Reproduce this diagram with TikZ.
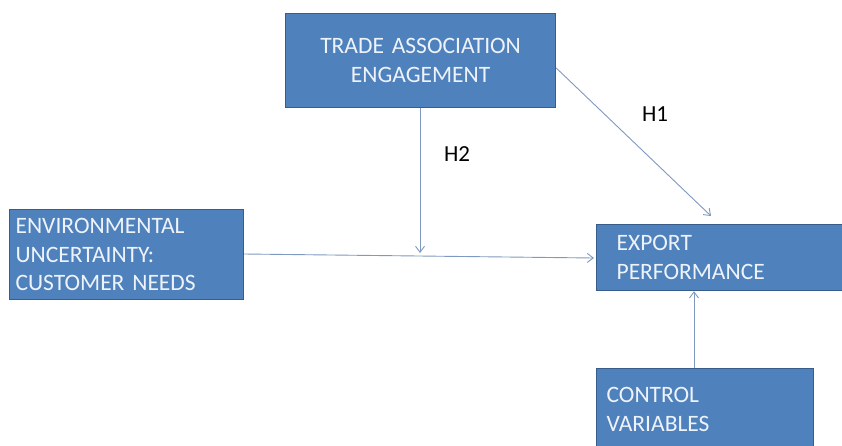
\documentclass[tikz,border=0pt]{standalone}
\usepackage{fontspec}
\setmainfont{Carlito}[WordSpace=0.7]
\usetikzlibrary{arrows.meta}
\definecolor{boxfill}{HTML}{4F81BD}
\definecolor{boxline}{HTML}{385D8A}
\definecolor{arrowc}{HTML}{8099C0}
\definecolor{boxtext}{HTML}{EEF3FA}
\begin{document}
\begin{tikzpicture}[x=1pt,y=-1pt,
  box/.style={draw=boxline, line width=1.2pt, fill=boxfill, text=boxtext,
    font=\fontsize{23.5}{28.5}\selectfont, anchor=north west, inner ysep=0pt},
  conn/.style={draw=arrowc, line width=0.9pt, -{Straight Barb[length=6pt,width=9pt]}},
  lbl/.style={font=\fontsize{23}{26}\selectfont, text=black}]
\useasboundingbox (0,0) rectangle (842,445);
\fill[white] (0,0) rectangle (842,445);
\node[box, minimum width=270, minimum height=94, align=center, inner xsep=0pt, text width=270] (trade) at (285,13) {TRADE ASSOCIATION\\ENGAGEMENT};
\node[box, minimum height=90, align=left, inner xsep=6pt, text width=222] (env) at (9,209) {ENVIRONMENTAL\\UNCERTAINTY:\\CUSTOMER NEEDS};
\node[box, minimum height=66, align=left, inner xsep=20pt, text width=206] (exp) at (596,224) {EXPORT\\PERFORMANCE};
\node[box, minimum height=82, align=left, inner xsep=10pt, text width=197] (ctrl) at (596,368) {CONTROL\\VARIABLES};
\coordinate (meet) at (420,253);
\coordinate (expin) at (594,258);
\coordinate (exptop) at (711,216);
\draw[conn] (trade.south -| meet) -- (meet);
\draw[conn] (env.east |- 0,254) -- (expin);
\draw[conn] (trade.east |- 0,68) -- (exptop);
\draw[conn] (ctrl.north -| 694,0) -- (exp.south -| 694,0);
\node[lbl] (h1) at (655,114) {H1};
\node[lbl] (h2) at (457,154) {H2};
\end{tikzpicture}
\end{document}
